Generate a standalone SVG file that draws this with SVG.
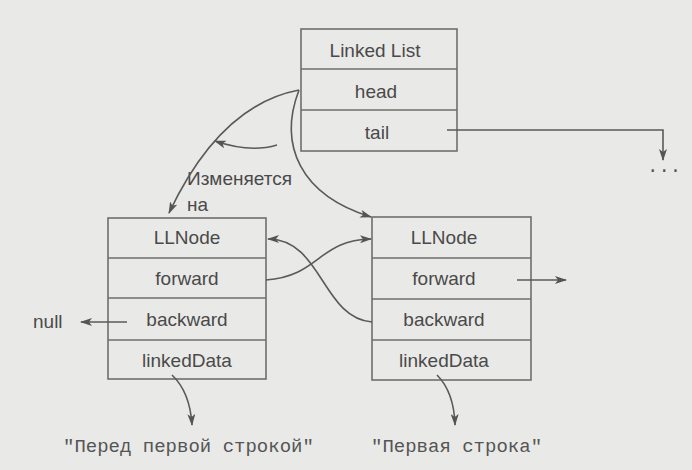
<svg xmlns="http://www.w3.org/2000/svg" width="692" height="470" viewBox="0 0 692 470">
<style>
.box{fill:none;stroke:#6e6e6e;stroke-width:1.6}
.t{font-family:"Liberation Sans",Arial,sans-serif;font-size:19px;fill:#4a4a4a;text-anchor:middle}
.tl{font-family:"Liberation Sans",Arial,sans-serif;font-size:19px;fill:#4a4a4a}
.m{font-family:"Liberation Mono","Courier New",monospace;font-size:19px;fill:#555}
.c{fill:none;stroke:#5a5a5a;stroke-width:1.6}
</style>
<defs>
<marker id="ah" viewBox="0 0 12 8" refX="11" refY="4" markerWidth="12" markerHeight="8" markerUnits="userSpaceOnUse" orient="auto">
<path d="M0,0 L12,4 L0,8 L3,4 z" fill="#555"/>
</marker>
</defs>
<rect width="692" height="470" fill="#e9e9e7"/>
<g id="linked-list">
<rect class="box" x="301" y="29" width="156" height="122"/>
<line class="box" x1="301" y1="69" x2="457" y2="69"/>
<line class="box" x1="301" y1="110" x2="457" y2="110"/>
<text class="t" x="375" y="57">Linked List</text>
<text class="t" x="376" y="98">head</text>
<text class="t" x="377" y="139">tail</text>
</g>
<g id="node-new">
<rect class="box" x="108" y="218" width="158" height="161"/>
<line class="box" x1="108" y1="258" x2="266" y2="258"/>
<line class="box" x1="108" y1="298" x2="266" y2="298"/>
<line class="box" x1="108" y1="340" x2="266" y2="340"/>
<text class="t" x="187" y="244">LLNode</text>
<text class="t" x="187" y="285">forward</text>
<text class="t" x="187" y="326">backward</text>
<text class="t" x="187" y="367">linkedData</text>
</g>
<g id="node-first">
<rect class="box" x="372" y="217" width="159" height="163"/>
<line class="box" x1="372" y1="258" x2="531" y2="258"/>
<line class="box" x1="372" y1="299" x2="531" y2="299"/>
<line class="box" x1="372" y1="340" x2="531" y2="340"/>
<text class="t" x="444" y="244">LLNode</text>
<text class="t" x="444" y="285">forward</text>
<text class="t" x="444" y="326">backward</text>
<text class="t" x="444" y="367">linkedData</text>
</g>
<g id="labels">
<text class="tl" x="187" y="185">Изменяется</text>
<text class="tl" x="187" y="211">на</text>
<text class="tl" x="33" y="328">null</text>
<text class="m" x="63" y="452">"Перед первой строкой"</text>
<text class="m" x="371" y="452">"Первая строка"</text>
<text class="m" x="647" y="172">...</text>
</g>
<g id="connectors">
<path class="c" d="M447,130 H663 V160" marker-end="url(#ah)"/>
<path class="c" d="M299,90 Q220,105 169,213" marker-end="url(#ah)"/>
<path class="c" d="M299,90 C278,145 300,195 371,217" marker-end="url(#ah)"/>
<path class="c" d="M277,145 Q250,153 215,141" marker-end="url(#ah)"/>
<path class="c" d="M266,280 C320,276 318,240 371,239" marker-end="url(#ah)"/>
<path class="c" d="M372,322 C322,318 322,239 268,239" marker-end="url(#ah)"/>
<path class="c" d="M127,322 H81" marker-end="url(#ah)"/>
<path class="c" d="M517,280 H566" marker-end="url(#ah)"/>
<path class="c" d="M172,375 Q190,392 192,425" marker-end="url(#ah)"/>
<path class="c" d="M437,375 Q454,392 455,425" marker-end="url(#ah)"/>
</g>
</svg>
